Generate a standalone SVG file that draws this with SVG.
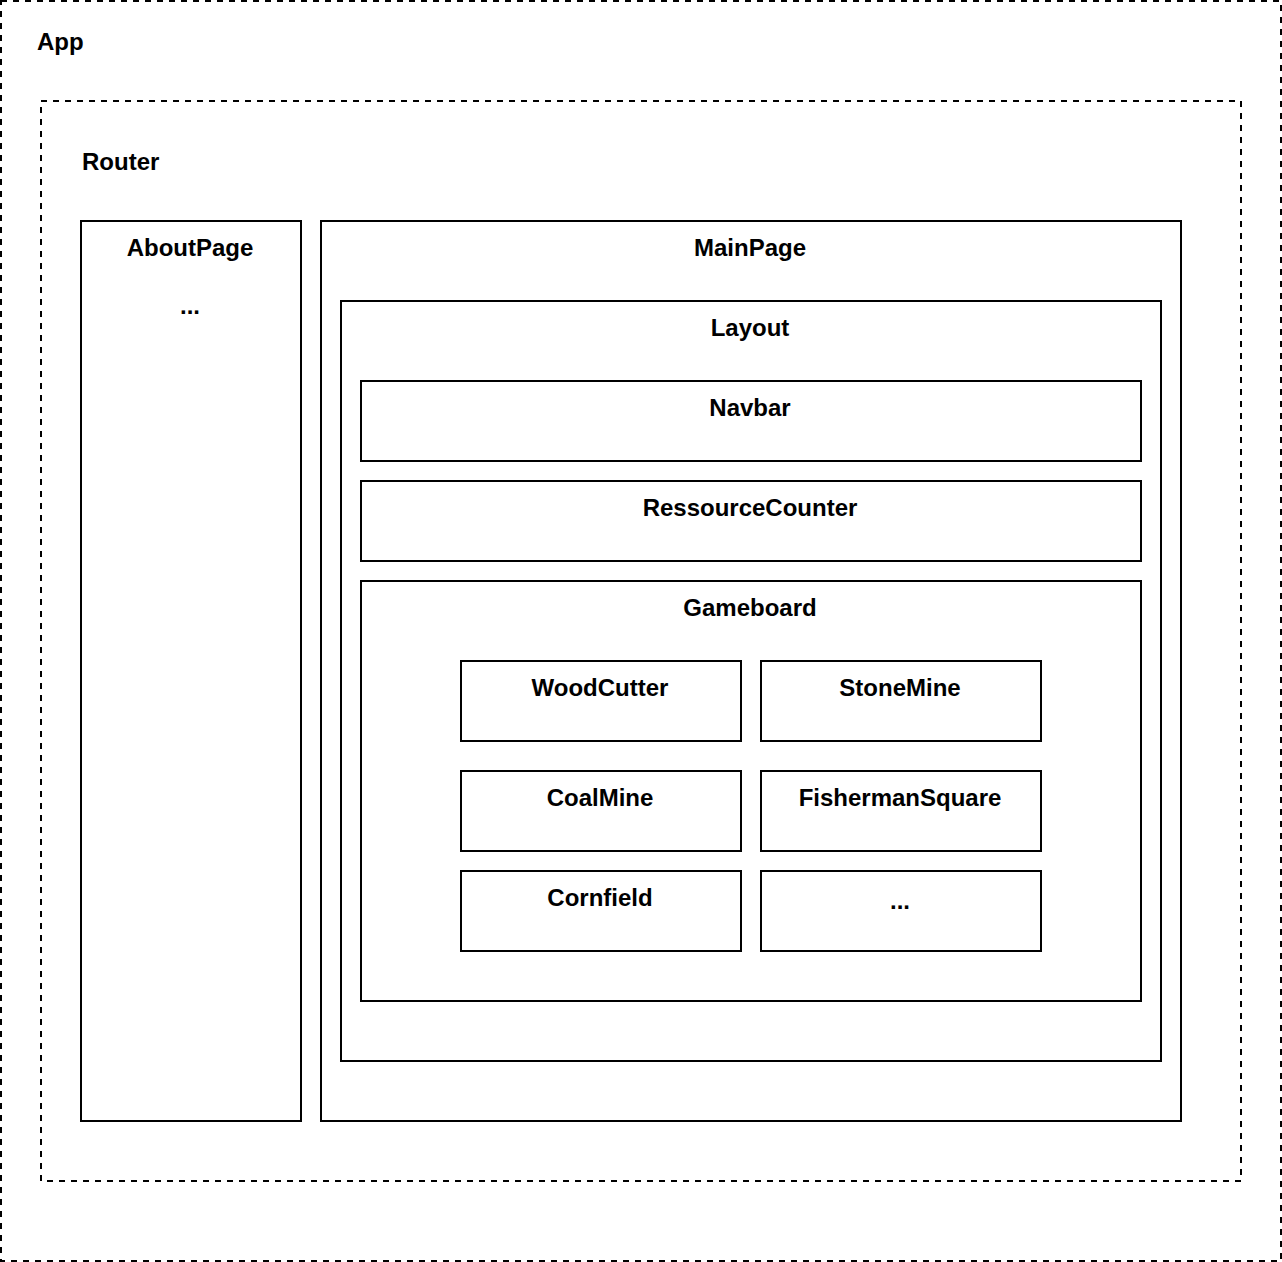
<svg xmlns="http://www.w3.org/2000/svg" width="1282" height="1262" viewBox="0 0 1282 1262">
<style>
.box{fill:#fff;stroke:#000;stroke-width:2}
.dash{fill:none;stroke:#000;stroke-width:2;stroke-dasharray:6 6}
text{font-family:"Liberation Sans",Arial,sans-serif;font-weight:bold;font-size:24px;fill:#000}
.c{text-anchor:middle}
</style>
<rect width="1282" height="1262" fill="#fff"/>
<g id="app"><rect class="dash" x="1" y="1" width="1280" height="1260"/><text x="37" y="50">App</text></g>
<g id="router"><rect class="dash" x="41" y="101" width="1200" height="1080"/><text x="82" y="170">Router</text></g>
<g id="aboutpage"><rect class="box" x="81" y="221" width="220" height="900"/><text class="c" x="190" y="256">AboutPage</text><text class="c" x="190" y="314">...</text></g>
<g id="mainpage"><rect class="box" x="321" y="221" width="860" height="900"/><text class="c" x="750" y="256">MainPage</text></g>
<g id="layout"><rect class="box" x="341" y="301" width="820" height="760"/><text class="c" x="750" y="336">Layout</text></g>
<g id="navbar"><rect class="box" x="361" y="381" width="780" height="80"/><text class="c" x="750" y="416">Navbar</text></g>
<g id="ressourcecounter"><rect class="box" x="361" y="481" width="780" height="80"/><text class="c" x="750" y="516">RessourceCounter</text></g>
<g id="gameboard"><rect class="box" x="361" y="581" width="780" height="420"/><text class="c" x="750" y="616">Gameboard</text></g>
<g id="woodcutter"><rect class="box" x="461" y="661" width="280" height="80"/><text class="c" x="600" y="696">WoodCutter</text></g>
<g id="stonemine"><rect class="box" x="761" y="661" width="280" height="80"/><text class="c" x="900" y="696">StoneMine</text></g>
<g id="coalmine"><rect class="box" x="461" y="771" width="280" height="80"/><text class="c" x="600" y="806">CoalMine</text></g>
<g id="fishermansquare"><rect class="box" x="761" y="771" width="280" height="80"/><text class="c" x="900" y="806">FishermanSquare</text></g>
<g id="cornfield"><rect class="box" x="461" y="871" width="280" height="80"/><text class="c" x="600" y="906">Cornfield</text></g>
<g id="more"><rect class="box" x="761" y="871" width="280" height="80"/><text class="c" x="900" y="909">...</text></g>
<g id="connectors"></g>
</svg>
